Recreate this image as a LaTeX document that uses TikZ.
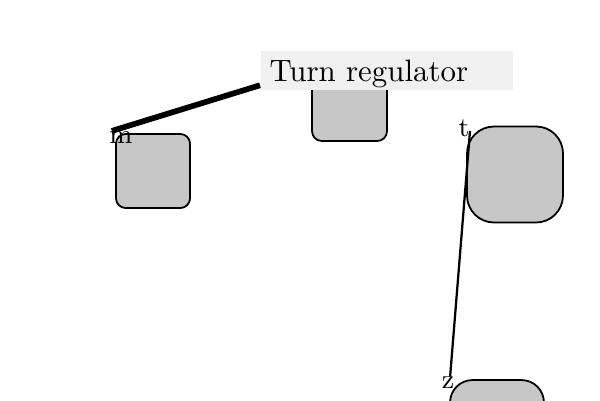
\documentclass[tikz,border=0pt]{standalone}
\usepackage{tikz}
\usetikzlibrary{positioning}
\tikzstyle{unit box} = [draw, semithick, fill=black!22, rounded corners=3.3pt, inner sep=0pt]
\tikzstyle{corner label} = [inner sep=0pt, font=\small]

\begin{document}
\begin{tikzpicture}[x=0.3333pt, y=-0.3333pt]
  \useasboundingbox (0,0) rectangle (600,400);
  \clip (0,0) rectangle (600,400);
  % Boxes
  \node[unit box, minimum size=24.7pt] (mbox) at (153,171) {};
  \node[unit box, minimum size=25pt] (topbox) at (349.5,103.5) {};
  \node[unit box, minimum size=32pt, rounded corners=9pt] (tbox) at (515,174.5) {};
  \node[unit box, minimum size=31.3pt, rounded corners=7.5pt] (zbox) at (497,427) {};
  % Labels
  \node[corner label] (m) at (121,137.5) {m};
  \node[corner label] (t) at (464,128) {t};
  \node[corner label] (z) at (448,383) {z};
  % Callout
  \node[fill=black!6, anchor=north west, minimum width=84pt, minimum height=13pt,
        inner sep=3pt, text depth=0pt, align=left, text width=78pt,
        font=\fontsize{10.3}{12}\selectfont] (reg) at (260,50) {Turn regulator};
  \draw[line width=1.9pt] ([xshift=1pt]m.north west) -- ([yshift=1.8pt]reg.south west);
  \draw[line width=0.75pt] ([yshift=-1pt]t.east) -- ([xshift=0.7pt]z.north);
\end{tikzpicture}
\end{document}
